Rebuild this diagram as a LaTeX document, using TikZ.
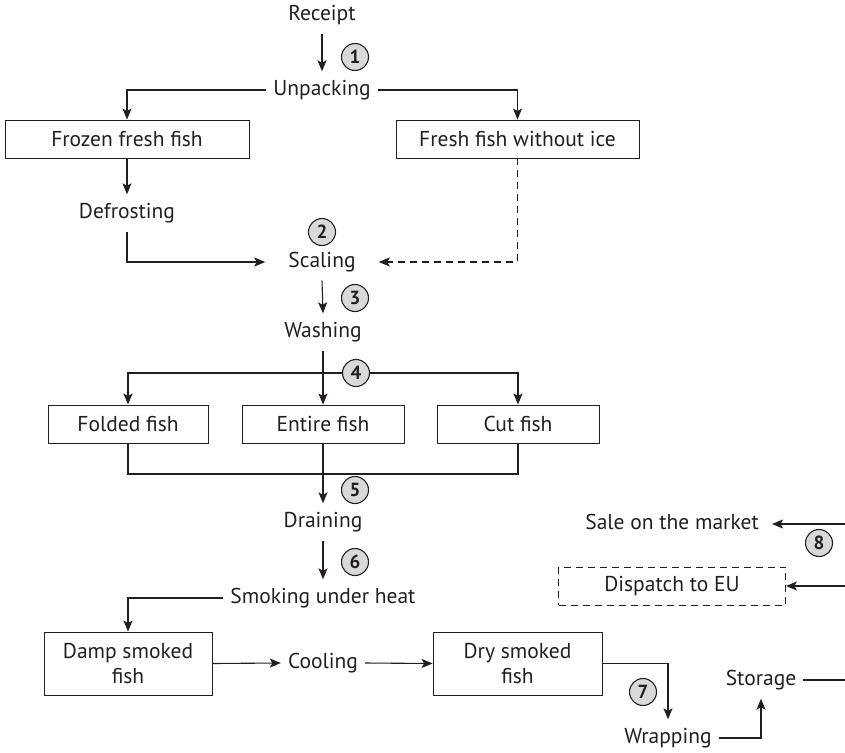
\documentclass[tikz,border=0pt]{standalone}
\usepackage{fontspec}
\setmainfont{PT Sans}
\usetikzlibrary{arrows.meta,calc}
\definecolor{ink}{HTML}{231F20}
\begin{document}
\begin{tikzpicture}[x=1pt,y=-1pt,
  every node/.style={text=ink},
  lbl/.style={font=\fontsize{21.5}{25}\selectfont, text height=15pt, text depth=4pt, inner xsep=7pt, inner ysep=9pt},
  boxn/.style={draw=ink, line width=0.9pt, font=\fontsize{21.5}{25}\selectfont, minimum height=38pt, inner sep=0pt, align=center},
  dbox/.style={boxn, dash pattern=on 7pt off 5pt},
  num/.style={circle, draw=ink, line width=1.1pt, fill=gray!30, minimum size=27pt, inner sep=0pt, font=\fontsize{19}{19}\selectfont\bfseries},
  ln/.style={draw=ink, line width=1.1pt},
  arr/.style={ln, -{Stealth[length=11pt,width=9pt,inset=2.5pt]}},
  darr/.style={arr, dash pattern=on 7pt off 5pt}
]
\useasboundingbox (0,0) rectangle (845,752);

% text nodes
\node[lbl] (receipt) at (322,15) {Receipt};
\node[lbl] (unpack) at (322,90) {Unpacking};
\node[boxn, minimum width=244pt] (frozen) at (127,139) {Frozen fresh fish};
\node[boxn, minimum width=243pt] (fresh) at (517.5,139) {Fresh fish without ice};
\node[lbl] (defrost) at (127,213) {Defrosting};
\node[lbl, inner xsep=23pt] (scaling) at (322,262) {Scaling};
\node[lbl] (washing) at (323,332) {Washing};
\node[boxn, minimum width=160pt] (fold) at (128,424) {Folded fish};
\node[boxn, minimum width=162pt] (entire) at (323,424) {Entire fish};
\node[boxn, minimum width=162pt] (cut) at (518,424) {Cut fish};
\node[lbl] (draining) at (323,522) {Draining};
\node[lbl] (smoking) at (323,598) {Smoking under heat};
\node[boxn, minimum width=168pt, minimum height=63pt] (damp) at (128,663.5) {Damp smoked\\fish};
\node[lbl] (cooling) at (323,663) {Cooling};
\node[boxn, minimum width=169pt, minimum height=63pt] (dry) at (517.5,663.5) {Dry smoked\\fish};
\node[lbl] (wrapping) at (668,738) {Wrapping};
\node[lbl] (storage) at (761,680) {Storage};
\node[lbl, anchor=east, inner xsep=13pt] (sale) at (772,524) {Sale on the market};
\node[dbox, minimum width=227pt] (dispatch) at (672,586) {Dispatch to EU};

% free ends
\coordinate (split) at (323,373);
\coordinate (merge) at (323,474);
\coordinate (rStore) at (846,680);
\coordinate (rSale) at (846,524);
\coordinate (rDisp) at (846,586);

% connectors
\draw[arr] (receipt.south) -- (unpack.north);
\draw[arr] (unpack.west) -| (frozen.north);
\draw[arr] (unpack.east) -| (fresh.north);
\draw[arr] (frozen.south) -- (defrost.north);
\draw[arr] (defrost.south) |- (scaling.west);
\draw[darr] (fresh.south) |- (scaling.east);
\draw[arr] (scaling.south) -- (washing.north);
\draw[arr] (split) -| (fold.north);
\draw[arr] (split) -| (cut.north);
\draw[arr] (washing.south) -- (entire.north);
\draw[ln] (fold.south) |- (merge) -| (cut.south);
\draw[arr] (entire.south) -- (draining.north);
\draw[arr] (draining.south) -- (smoking.north);
\draw[arr] (smoking.west) -| (damp.north);
\draw[arr] (damp.east) -- (cooling.west);
\draw[arr] (cooling.east) -- (dry.west);
\draw[arr] (dry.east) -| (wrapping.north);
\draw[arr] (wrapping.east) -| (storage.south);
\draw[ln] (storage.east) -- (rStore);
\draw[arr] (rSale) -- (sale.east);
\draw[arr] (rDisp) -- (dispatch.east);

% step numbers
\node[num] (n1) at (355,57) {1};
\node[num] (n2) at (322,232) {2};
\node[num] (n3) at (355,298) {3};
\node[num] (n4) at (356,373) {4};
\node[num] (n5) at (355,490) {5};
\node[num] (n6) at (355,562) {6};
\node[num] (n7) at (643,692) {7};
\node[num] (n8) at (819,543) {8};
\end{tikzpicture}
\end{document}
